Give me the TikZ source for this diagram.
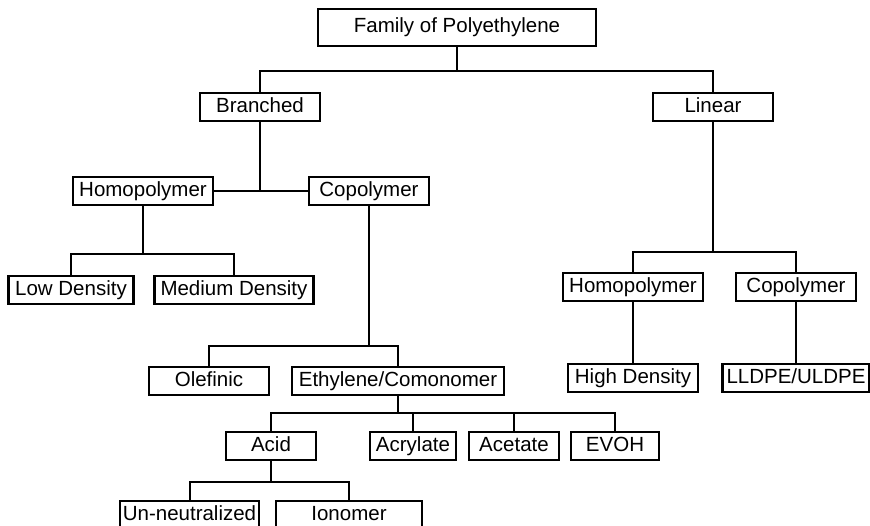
\documentclass[tikz,border=0pt]{standalone}
\usepackage{fontspec}
\setmainfont{Liberation Sans}
\usetikzlibrary{positioning,calc}

\begin{document}
\begin{tikzpicture}[
box/.style={draw,line width=2.4pt,inner sep=1pt,outer sep=0pt,minimum height=28pt,text height=14.5pt,text depth=4pt,align=center,font=\fontsize{20.5}{24}\selectfont},
lnk/.style={line width=2pt}
]
\useasboundingbox (0,0) rectangle (870pt,-526pt);
\node[box,minimum width=278pt,minimum height=37pt] (fam) at (457pt,-27.5pt) {Family of Polyethylene};

\node[box,minimum width=120pt,below=47pt of fam,xshift=-197pt] (br) {Branched};
\node[box,minimum width=120pt,below=47pt of fam,xshift=256pt] (lin) {Linear};

\node[box,minimum width=140pt,below=56pt of br,xshift=-117pt] (bho) {Homopolymer};
\node[box,minimum width=120pt,right=96pt of bho] (bco) {Copolymer};

\node[box,minimum width=125pt,below=71pt of bho,xshift=-72pt] (low) {Low Density};
\node[box,minimum width=159pt,right=21pt of low] (med) {Medium Density};

\node[box,minimum width=120pt,below=162pt of bco,xshift=-160pt] (ole) {Olefinic};
\node[box,minimum width=212pt,right=23pt of ole] (eth) {Ethylene/Comonomer};

\node[box,minimum width=90pt,below=37pt of eth,xshift=-127pt] (acid) {Acid};
\node[box,minimum width=86pt,right=54pt of acid] (acr) {Acrylate};
\node[box,minimum width=90pt,right=13pt of acr] (ace) {Acetate};
\node[box,minimum width=88pt,right=12pt of ace] (evoh) {EVOH};

\node[box,minimum width=139pt,below=41pt of acid,xshift=-81.5pt] (unn) {Un-neutralized};
\node[box,minimum width=146pt,right=17pt of unn] (ion) {Ionomer};

\node[box,minimum width=140pt,below=152pt of lin,xshift=-80pt] (lho) {Homopolymer};
\node[box,minimum width=120pt,right=33pt of lho] (lco) {Copolymer};
\node[box,minimum width=130pt,below=63pt of lho] (hd) {High Density};
\node[box,minimum width=147pt,below=63pt of lco] (ll) {LLDPE/ULDPE};

\draw[lnk] (fam.south) -- ++(0,-25pt) coordinate (j0);
\draw[lnk] (br.north) |- (j0) -| (lin.north);
\draw[lnk] (br.south) -- (br |- bho.east);
\draw[lnk] (bho.east) -- (bco.west);
\draw[lnk] (bho.south) -- ++(0,-49pt) coordinate (j2);
\draw[lnk] (low.north) |- (j2) -| (med.north);
\draw[lnk] (bco.south) -- ++(0,-141pt) coordinate (j3);
\draw[lnk] (ole.north) |- (j3) -| (eth.north);
\draw[lnk] (eth.south) -- ++(0,-18pt) coordinate (j4);
\draw[lnk] (acid.north) |- (j4) -| (evoh.north);
\foreach \x in {acr,ace} \draw[lnk] (\x.north) -- (\x.north |- j4);
\draw[lnk] (acid.south) -- ++(0,-22pt) coordinate (j5);
\draw[lnk] (unn.north) |- (j5) -| (ion.north);
\draw[lnk] (lin.south) -- ++(0,-131pt) coordinate (j6);
\draw[lnk] (lho.north) |- (j6) -| (lco.north);
\draw[lnk] (lho) -- (hd);
\draw[lnk] (lco.south) -- (lco.south |- ll.north);
\end{tikzpicture}
\end{document}
